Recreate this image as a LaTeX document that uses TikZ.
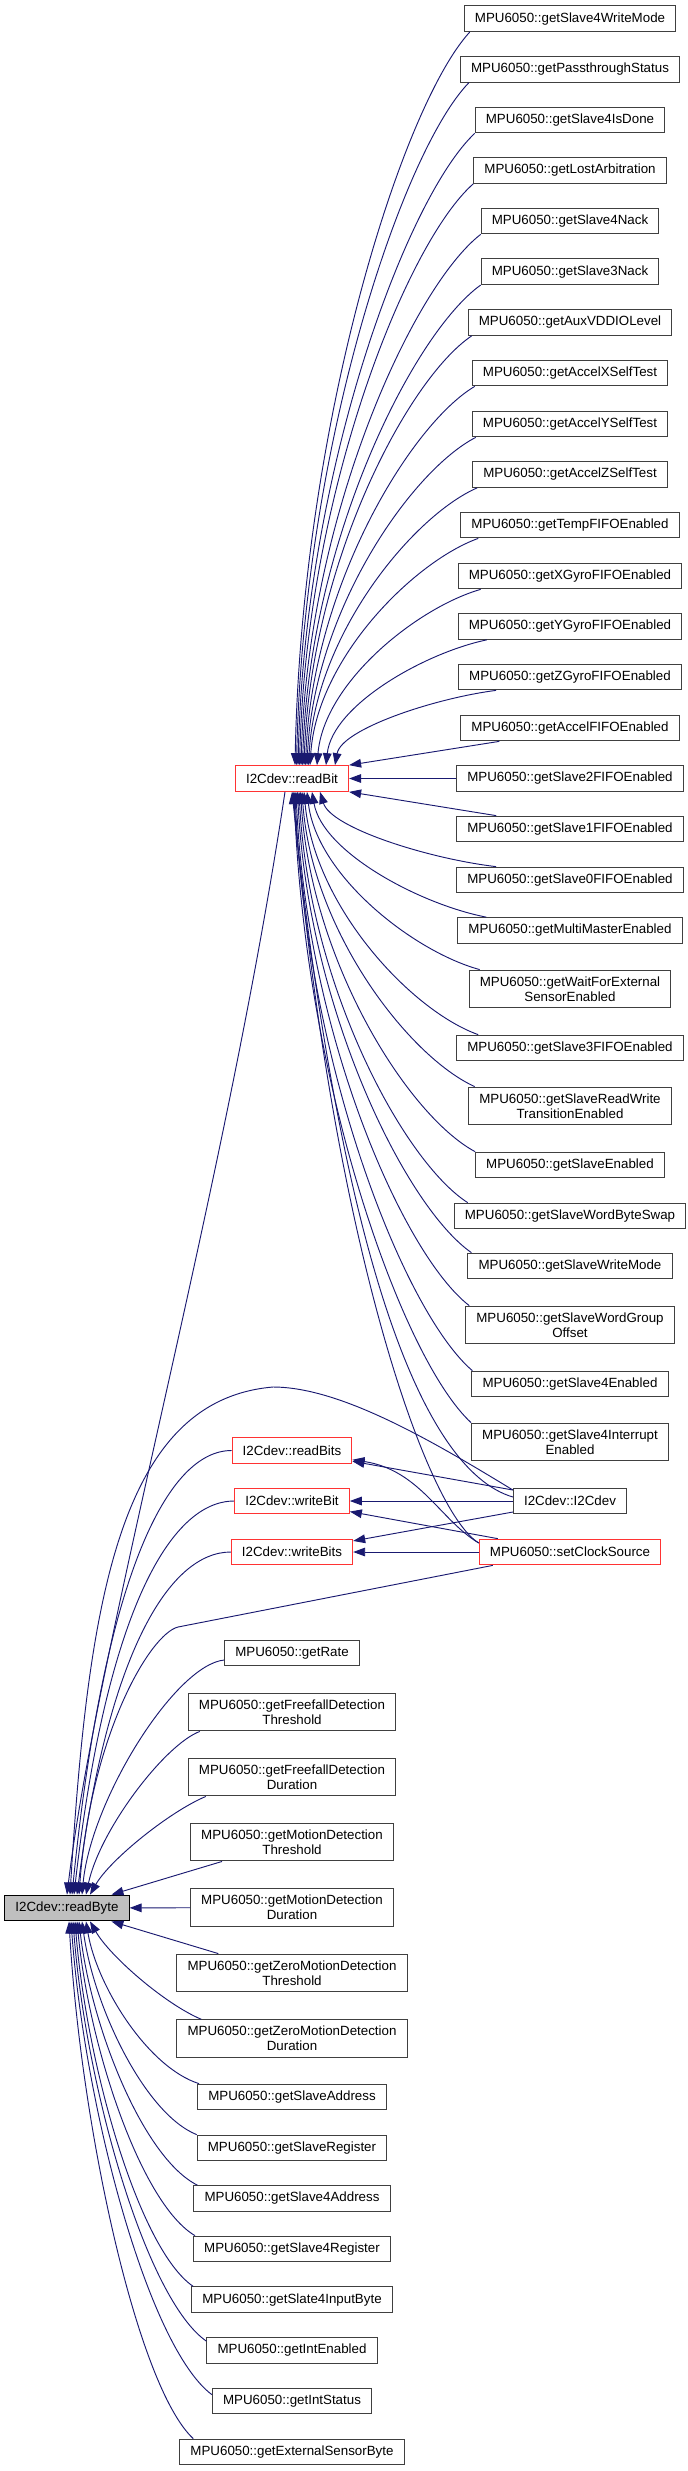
\documentclass[tikz,border=0pt]{standalone}
\usepackage{fontspec}
\setmainfont{Liberation Sans}
\usetikzlibrary{arrows.meta}
\definecolor{edgeblue}{HTML}{191970}
\definecolor{boxred}{HTML}{FF3333}
\definecolor{boxgray}{HTML}{BFBFBF}

\begin{document}
\begin{tikzpicture}[x=0.75pt,y=-0.75pt,>={Triangle[length=9pt,width=6.5pt]},
  fn/.style={draw=black!75,line width=0.75pt,font=\fontsize{10}{11.25}\selectfont,align=center,inner xsep=8pt,inner ysep=4.9pt,minimum height=19.3pt},
  trunc/.style={fn,draw=boxred},
  callline/.style={<-,draw=edgeblue,line width=0.7pt}]
  \useasboundingbox (0,0) rectangle (688,2471);

  \node[fn] (s4WrMode) at (570,18.7) {MPU6050::getSlave4WriteMode};
  \node[fn] (passthru) at (570,69.3) {MPU6050::getPassthroughStatus};
  \node[fn] (s4Done) at (570,120) {MPU6050::getSlave4IsDone};
  \node[fn] (lostArb) at (570,170.5) {MPU6050::getLostArbitration};
  \node[fn] (s4Nack) at (570,221) {MPU6050::getSlave4Nack};
  \node[fn] (s3Nack) at (570,271.7) {MPU6050::getSlave3Nack};
  \node[fn] (auxVddio) at (570,322.5) {MPU6050::getAuxVDDIOLevel};
  \node[fn] (accXTest) at (570,373) {MPU6050::getAccelXSelfTest};
  \node[fn] (accYTest) at (570,424) {MPU6050::getAccelYSelfTest};
  \node[fn] (accZTest) at (570,474.5) {MPU6050::getAccelZSelfTest};
  \node[fn] (tempFifo) at (570,525) {MPU6050::getTempFIFOEnabled};
  \node[fn] (xGyroFifo) at (570,576) {MPU6050::getXGyroFIFOEnabled};
  \node[fn] (yGyroFifo) at (570,626.5) {MPU6050::getYGyroFIFOEnabled};
  \node[fn] (zGyroFifo) at (570,677) {MPU6050::getZGyroFIFOEnabled};
  \node[fn] (accFifo) at (570,728) {MPU6050::getAccelFIFOEnabled};
  \node[fn] (s2Fifo) at (570,778.5) {MPU6050::getSlave2FIFOEnabled};
  \node[fn] (s1Fifo) at (570,829) {MPU6050::getSlave1FIFOEnabled};
  \node[fn] (s0Fifo) at (570,880) {MPU6050::getSlave0FIFOEnabled};
  \node[fn] (multiMst) at (570,930.5) {MPU6050::getMultiMasterEnabled};
  \node[fn] (waitExt) at (570,989) {MPU6050::getWaitForExternal\\SensorEnabled};
  \node[fn] (s3Fifo) at (570,1048) {MPU6050::getSlave3FIFOEnabled};
  \node[fn] (slvRwTrans) at (570,1106) {MPU6050::getSlaveReadWrite\\TransitionEnabled};
  \node[fn] (slvEn) at (570,1165) {MPU6050::getSlaveEnabled};
  \node[fn] (slvWordSwap) at (570,1216) {MPU6050::getSlaveWordByteSwap};
  \node[fn] (slvWrMode) at (570,1266) {MPU6050::getSlaveWriteMode};
  \node[fn] (slvWordGrp) at (570,1325) {MPU6050::getSlaveWordGroup\\Offset};
  \node[fn] (s4En) at (570,1384) {MPU6050::getSlave4Enabled};
  \node[fn] (s4IntEn) at (570,1442) {MPU6050::getSlave4Interrupt\\Enabled};
  \node[fn] (ctor) at (570,1501) {I2Cdev::I2Cdev};
  \node[trunc] (clk) at (570,1552) {MPU6050::setClockSource};

  \node[trunc] (readBit) at (292,778.5) {I2Cdev::readBit};
  \node[trunc] (readBits) at (292,1450.5) {I2Cdev::readBits};
  \node[trunc] (writeBit) at (292,1501) {I2Cdev::writeBit};
  \node[trunc] (writeBits) at (292,1552) {I2Cdev::writeBits};
  \node[fn] (rate) at (292,1653) {MPU6050::getRate};
  \node[fn] (ffThr) at (292,1712) {MPU6050::getFreefallDetection\\Threshold};
  \node[fn] (ffDur) at (292,1777) {MPU6050::getFreefallDetection\\Duration};
  \node[fn] (motThr) at (292,1842) {MPU6050::getMotionDetection\\Threshold};
  \node[fn] (motDur) at (292,1907.5) {MPU6050::getMotionDetection\\Duration};
  \node[fn] (zmThr) at (292,1973) {MPU6050::getZeroMotionDetection\\Threshold};
  \node[fn] (zmDur) at (292,2038.7) {MPU6050::getZeroMotionDetection\\Duration};
  \node[fn] (slvAddr) at (292,2097) {MPU6050::getSlaveAddress};
  \node[fn] (slvReg) at (292,2148) {MPU6050::getSlaveRegister};
  \node[fn] (s4Addr) at (292,2198.5) {MPU6050::getSlave4Address};
  \node[fn] (s4Reg) at (292,2249) {MPU6050::getSlave4Register};
  \node[fn] (s4In) at (292,2299.7) {MPU6050::getSlate4InputByte};
  \node[fn] (intEn) at (292,2350.5) {MPU6050::getIntEnabled};
  \node[fn] (intSt) at (292,2401) {MPU6050::getIntStatus};
  \node[fn] (extSens) at (292,2452) {MPU6050::getExternalSensorByte};

  \node[fn,fill=boxgray,draw=black] (readByte) at (67,1908) {I2Cdev::readByte};

  \draw[callline] ([shift={(3,0)}]readBit.north) .. controls +(7,-345) and +(-67,73) .. ([shift={(6,0)}]s4WrMode.south west);
  \draw[callline] ([shift={(4.5,0)}]readBit.north) .. controls +(7,-321) and +(-66,68) .. ([shift={(9,0)}]passthru.south west);
  \draw[callline] ([shift={(6,0)}]readBit.north) .. controls +(7,-298) and +(-67,63) .. (s4Done.south west);
  \draw[callline] ([shift={(7.5,0)}]readBit.north) .. controls +(7,-274) and +(-66,58) .. (lostArb.south west);
  \draw[callline] ([shift={(9,0)}]readBit.north) .. controls +(7,-250) and +(-68,53) .. (s4Nack.south west);
  \draw[callline] ([shift={(10.5,0)}]readBit.north) .. controls +(7,-226) and +(-67,48) .. (s3Nack.south west);
  \draw[callline] ([shift={(12,0)}]readBit.north) .. controls +(7,-202) and +(-64,43) .. ([shift={(4,0)}]auxVddio.south west);
  \draw[callline] ([shift={(13.5,0)}]readBit.north) .. controls +(7,-179) and +(-64,38) .. ([shift={(3,0)}]accXTest.south west);
  \draw[callline] ([shift={(15,0)}]readBit.north) .. controls +(7,-155) and +(-64,33) .. ([shift={(4,0)}]accYTest.south west);
  \draw[callline] ([shift={(16.5,0)}]readBit.north) .. controls +(7,-131) and +(-64,28) .. ([shift={(5,0)}]accZTest.south west);
  \draw[callline] ([shift={(18,0)}]readBit.north) .. controls +(7,-107) and +(-64,23) .. ([shift={(18,0)}]tempFifo.south west);
  \draw[callline] ([shift={(25,0)}]readBit.north) .. controls +(7,-83) and +(-63,18) .. ([shift={(23,0)}]xGyroFifo.south west);
  \draw[callline] ([shift={(34,0)}]readBit.north) .. controls +(6.5,-60) and +(-62,13) .. ([shift={(29,0)}]yGyroFifo.south west);
  \draw[callline] ([shift={(43,0)}]readBit.north) .. controls +(6.5,-36) and +(-62,8) .. ([shift={(38,0)}]zGyroFifo.south west);
  \draw[callline] (readBit.north east) -- ([shift={(39,0)}]accFifo.south west);
  \draw[callline] (readBit) -- (s2Fifo);
  \draw[callline] (readBit.south east) -- ([shift={(40,0)}]s1Fifo.north west);
  \draw[callline] ([shift={(28,0)}]readBit.south) .. controls +(11,36) and +(-68,-8) .. ([shift={(40,0)}]s0Fifo.north west);
  \draw[callline] ([shift={(20,0)}]readBit.south) .. controls +(10.5,60) and +(-67,-13) .. ([shift={(29,0)}]multiMst.north west);
  \draw[callline] ([shift={(15,0)}]readBit.south) .. controls +(10,84) and +(-66,-18) .. ([shift={(11,0)}]waitExt.north west);
  \draw[callline] ([shift={(12,0)}]readBit.south) .. controls +(10.5,115) and +(-67,-24) .. ([shift={(22,0)}]s3Fifo.north west);
  \draw[callline] ([shift={(10,0)}]readBit.south) .. controls +(10,139) and +(-66,-30) .. ([shift={(6.5,0)}]slvRwTrans.north west);
  \draw[callline] ([shift={(8.5,0)}]readBit.south) .. controls +(10.5,170) and +(-67,-36) .. (slvEn.north west);
  \draw[callline] ([shift={(7,0)}]readBit.south) .. controls +(10,194) and +(-64,-41) .. ([shift={(14,0)}]slvWordSwap.north west);
  \draw[callline] ([shift={(5.5,0)}]readBit.south) .. controls +(10.5,217) and +(-66,-46) .. ([shift={(4,0)}]slvWrMode.north west);
  \draw[callline] ([shift={(4,0)}]readBit.south) .. controls +(10.5,242) and +(-66,-51) .. ([shift={(4,0)}]slvWordGrp.north west);
  \draw[callline] ([shift={(3,0)}]readBit.south) .. controls +(11,273) and +(-68,-58) .. ([shift={(1,0)}]s4En.north west);
  \draw[callline] ([shift={(2,0)}]readBit.south) .. controls +(11,297) and +(-68,-63) .. (s4IntEn.north west);
  \draw[callline] (readBit.south) .. controls +(48,459) and +(-92,-27) .. ([shift={(0,-4)}]ctor.west);
  \draw[callline] ([shift={(1,0)}]readBit.south) .. controls +(37,439) and +(-54,-33) .. ([shift={(0,-9)}]clk.west);

  \draw[callline] (readBits) -- ([shift={(0,-11)}]ctor.west);
  \draw[callline] (readBits) .. controls (420,1470) and (440,1520) .. ([shift={(0,-9)}]clk.west);
  \draw[callline] (writeBit) -- (ctor);
  \draw[callline] (writeBit) -- ([shift={(19,0)}]clk.north west);
  \draw[callline] (writeBits) -- ([shift={(0,11)}]ctor.west);
  \draw[callline] (writeBits) -- (clk);

  \draw[callline] (readByte.north) .. controls +(30,-250) and +(-60,400) .. ([shift={(-7,0)}]readBit.south);
  \draw[callline] ([shift={(3,0)}]readByte.north) .. controls +(18,-295) and (120,1400) .. (273,1387) .. controls +(67,0) and +(-82,-50) .. ([shift={(0,-11)}]ctor.west);
  \draw[callline] ([shift={(5,0)}]readByte.north) .. controls +(32,-320) and +(-64,0) .. (readBits.west);
  \draw[callline] ([shift={(7,0)}]readByte.north) .. controls +(32,-282) and +(-64,0) .. (writeBit.west);
  \draw[callline] ([shift={(10,0)}]readByte.north) .. controls +(31,-243) and +(-61,0) .. (writeBits.west);
  \draw[callline] ([shift={(12,0)}]readByte.north) .. controls +(12,-160) and (150,1634) .. (178,1627) -- ([shift={(14,0)}]clk.south west);
  \draw[callline] ([shift={(15,0)}]readByte.north) .. controls +(9,-95) and +(-49,5) .. ([shift={(0,7)}]rate.west);
  \draw[callline] ([shift={(19,0)}]readByte.north) .. controls +(14,-65) and +(-35,13) .. ([shift={(12,0)}]ffThr.south west);
  \draw[callline] ([shift={(23,0)}]readByte.north) .. controls +(20,-35) and +(-36,15) .. ([shift={(18,0)}]ffDur.south west);
  \draw[callline] (readByte) -- ([shift={(32,0)}]motThr.south west);
  \draw[callline] (readByte) -- (motDur);
  \draw[callline] (readByte) -- ([shift={(42,0)}]zmThr.north west);
  \draw[callline] ([shift={(23,0)}]readByte.south) .. controls +(20,35) and +(-36,-15) .. ([shift={(25,0)}]zmDur.north west);
  \draw[callline] ([shift={(19,0)}]readByte.south) .. controls +(11,65) and +(-51,-16) .. ([shift={(2,0)}]slvAddr.north west);
  \draw[callline] ([shift={(15,0)}]readByte.south) .. controls +(12,86) and +(-52,-21) .. (slvReg.north west);
  \draw[callline] ([shift={(12,0)}]readByte.south) .. controls +(12,106) and +(-54,-27) .. ([shift={(4,0)}]s4Addr.north west);
  \draw[callline] ([shift={(10,0)}]readByte.south) .. controls +(12,126) and +(-54,-32) .. ([shift={(2,0)}]s4Reg.north west);
  \draw[callline] ([shift={(8,0)}]readByte.south) .. controls +(12,146) and +(-54,-37) .. ([shift={(2,0)}]s4In.north west);
  \draw[callline] ([shift={(6,0)}]readByte.south) .. controls +(13,168) and +(-60,-42) .. ([shift={(0,4)}]intEn.north west);
  \draw[callline] ([shift={(4,0)}]readByte.south) .. controls +(14,190) and +(-63,-47) .. ([shift={(0,7)}]intSt.north west);
  \draw[callline] ([shift={(2,0)}]readByte.south) .. controls +(12,207) and +(-56,-52) .. ([shift={(14,0)}]extSens.north west);
\end{tikzpicture}
\end{document}
